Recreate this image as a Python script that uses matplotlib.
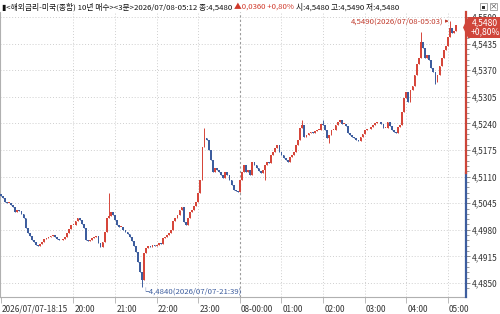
import matplotlib
matplotlib.use("Agg")
import matplotlib.pyplot as plt
import matplotlib.transforms as mtransforms
from matplotlib.patches import Polygon, Rectangle
import numpy as np

plt.rcParams['font.family'] = ['Liberation Sans Narrow', 'Noto Sans CJK KR', 'DejaVu Sans']

# ---------------- data ----------------
closes = [
    4.5063, 4.5058, 4.5048, 4.5046, 4.5046, 4.5041, 4.5036, 4.5024, 4.5028, 4.5026,
    4.5019, 4.5009, 4.4984, 4.4972, 4.4965, 4.4955, 4.4950, 4.4943, 4.4940, 4.4945,
    4.4950, 4.4958, 4.4960, 4.4962, 4.4965, 4.4967, 4.4962, 4.4958, 4.4955, 4.4955,
    4.4958, 4.4962, 4.4972, 4.4982, 4.4992, 4.4992, 4.5002, 4.5009, 4.5004, 4.4994,
    4.4984, 4.4955, 4.4953, 4.4955, 4.4960, 4.4962, 4.4965, 4.4948, 4.4938, 4.4950,
    4.4975, 4.5009, 4.5014, 4.5024, 4.5016, 4.5004, 4.4992, 4.4987, 4.4987, 4.4980,
    4.4975, 4.4970, 4.4962, 4.4953, 4.4940, 4.4926, 4.4901, 4.4877, 4.4857, 4.4923,
    4.4936, 4.4940, 4.4938, 4.4943, 4.4940, 4.4943, 4.4948, 4.4945, 4.4960, 4.4962,
    4.4967, 4.4972, 4.4980, 4.5002, 4.5009, 4.5016, 4.5028, 4.5036, 4.4999, 4.4992,
    4.5009, 4.5024, 4.5028, 4.5038, 4.5048, 4.5070, 4.5102, 4.5182, 4.5204, 4.5199,
    4.5175, 4.5151, 4.5121, 4.5131, 4.5126, 4.5121, 4.5114, 4.5107, 4.5121, 4.5114,
    4.5102, 4.5090, 4.5077, 4.5075, 4.5072, 4.5102, 4.5121, 4.5138, 4.5121, 4.5126,
    4.5114, 4.5146, 4.5138, 4.5131, 4.5124, 4.5119, 4.5126, 4.5138, 4.5146, 4.5143,
    4.5163, 4.5170, 4.5180, 4.5187, 4.5170, 4.5163, 4.5156, 4.5151, 4.5146, 4.5158,
    4.5163, 4.5170, 4.5187, 4.5199, 4.5229, 4.5236, 4.5207, 4.5212, 4.5217, 4.5219,
    4.5217, 4.5221, 4.5224, 4.5224, 4.5239, 4.5236, 4.5224, 4.5204, 4.5212, 4.5224,
    4.5224, 4.5236, 4.5243, 4.5248, 4.5239, 4.5239, 4.5234, 4.5217, 4.5212, 4.5207,
    4.5204, 4.5199, 4.5197, 4.5207, 4.5214, 4.5224, 4.5226, 4.5226, 4.5231, 4.5236,
    4.5241, 4.5243, 4.5243, 4.5239, 4.5229, 4.5229, 4.5243, 4.5234, 4.5224, 4.5219,
    4.5217, 4.5231, 4.5236, 4.5268, 4.5302, 4.5317, 4.5292, 4.5322, 4.5331, 4.5358,
    4.5385, 4.5400, 4.5439, 4.5424, 4.5400, 4.5407, 4.5395, 4.5375, 4.5366, 4.5341,
    4.5358, 4.5380, 4.5400, 4.5419, 4.5429, 4.5451, 4.5473, 4.5461, 4.5466, 4.5480,
]
first_open = 4.5068
# notable wick extremes: bar index -> value
wick_high = {52: 4.5070, 98: 4.5229, 145: 4.5248, 155: 4.5248, 202: 4.5463, 216: 4.5490}
wick_low = {68: 4.4840, 127: 4.5102, 158: 4.5192, 209: 4.5336}

prev_close = 4.5120
last_close = 4.5480
change = 0.0360
change_pct = 0.80
day_open, day_high, day_low = 4.5480, 4.5490, 4.5480

tick_idx = [0, 35, 55, 75, 95, 115, 135, 155, 175, 195, 215]
tick_lbl = ["2026/07/07-18:15", "20:00", "21:00", "22:00", "23:00", "08-00:00",
            "01:00", "02:00", "03:00", "04:00", "05:00"]
y_ticks = [4.4850, 4.4915, 4.4980, 4.5045, 4.5110, 4.5175, 4.5240, 4.5305, 4.5370, 4.5435, 4.5500]

RED = '#d6463a'
BLUE = '#3d5d9e'


def fmt(v, d=4):
    return f"{v:.{d}f}".replace('.', ',')


# ---------------- figure ----------------
W, H = 500, 314
fig = plt.figure(figsize=(W / 100, H / 100), dpi=100)
fig.patch.set_facecolor('white')
ax = fig.add_axes([0, 17 / H, 466 / W, 285 / H])
ax.set_facecolor('white')

n = len(closes)
idx = np.arange(n)
opens = np.array([first_open] + closes[:-1])
cl = np.array(closes)
hi = np.maximum(opens, cl)
lo = np.minimum(opens, cl)
for k, v in wick_high.items():
    hi[k] = max(hi[k], v)
for k, v in wick_low.items():
    lo[k] = min(lo[k], v)
up = cl >= opens
colors = np.where(up, RED, BLUE)

ax.vlines(idx, lo, hi, colors=colors, lw=0.7, zorder=3)
body_bottom = np.minimum(opens, cl)
body_h = np.maximum(np.abs(cl - opens), 0.00012)
ax.bar(idx, body_h, bottom=body_bottom, width=0.85, color=colors, lw=0, zorder=4)

ax.set_xlim(-0.3, 223.7)
ax.set_ylim(4.48158, 4.55123)

# grid
for yv in y_ticks:
    ax.axhline(yv, color='#cfcfcf', lw=0.7, ls=(0, (1, 2)), zorder=1)
for xi in tick_idx[1:]:
    if xi == 115:
        ax.axvline(xi, color='#9a9a9a', lw=0.8, ls=(0, (2, 2)), zorder=1)
    else:
        ax.axvline(xi, color='#cfcfcf', lw=0.7, ls=(0, (1, 2)), zorder=1)

# spines
for s in ['top', 'right']:
    ax.spines[s].set_visible(False)
for s in ['left', 'bottom']:
    ax.spines[s].set_color('#b0b0b0')
    ax.spines[s].set_linewidth(0.8)

# right axis coloured line
trans = mtransforms.blended_transform_factory(ax.transAxes, ax.transData)
ax.plot([1, 1], [4.48158, prev_close], color=BLUE, lw=1.6, transform=trans, clip_on=False, zorder=6)
ax.plot([1, 1], [prev_close, 4.55123], color='#cc4538', lw=1.6, transform=trans, clip_on=False, zorder=6)

# y ticks
ax.yaxis.tick_right()
ax.set_yticks(y_ticks)
ax.set_yticklabels([fmt(v) for v in y_ticks])
ax.set_yticks(np.arange(4.4837, 4.5512, 0.0013), minor=True)
ax.tick_params(axis='y', which='major', length=3, width=0.6, color='#777777', pad=1.2,
               labelsize=6.0, labelcolor='#333333')
ax.tick_params(axis='y', which='minor', length=1.8, width=0.5, color='#777777')

# x ticks
ax.set_xticks(tick_idx)
ax.set_xticklabels(tick_lbl, ha='left')
ax.tick_params(axis='x', length=4, width=0.6, color='#b0b0b0', pad=1.5,
               labelsize=5.9, labelcolor='#333333')
off = mtransforms.ScaledTranslation(1.2 / 100, 0, fig.dpi_scale_trans)
for lbl in ax.get_xticklabels():
    lbl.set_transform(lbl.get_transform() + off)

# annotations
hi_idx = 216
ax.annotate(fmt(day_high) + "(2026/07/08-05:03)",
            xy=(hi_idx, day_high), xytext=(hi_idx - 3.2, day_high),
            ha='right', va='center', fontsize=5.6, color='#c0392b',
            arrowprops=dict(arrowstyle='-|>', color='#c0392b', lw=0.6,
                            mutation_scale=4, shrinkA=0, shrinkB=1), zorder=7)
lo_idx = 68
ax.annotate("└" + fmt(4.4840) + "(2026/07/07-21:39)",
            xy=(lo_idx, 4.4840), xytext=(-0.5, -1.2), textcoords='offset points',
            ha='left', va='top', fontsize=5.6, color=BLUE, zorder=7)


# price tag box on right axis
def fy(py):
    return 1 - py / H


tag = Polygon([(463 / W, fy(27.5)), (468 / W, fy(17)), (500 / W, fy(17)),
               (500 / W, fy(38)), (468 / W, fy(38))],
              closed=True, transform=fig.transFigure, facecolor='#d0453a',
              edgecolor='none', zorder=10)
fig.add_artist(tag)
fig.text(485 / W, fy(22.5), fmt(last_close), color='white',
         fontsize=6.2, ha='center', va='center', zorder=11)
fig.text(485 / W, fy(32), "+" + fmt(change_pct, 2) + "%", color='white',
         fontsize=6.2, ha='center', va='center', zorder=11)

# window icons top right
for x0 in (480, 490):
    fig.add_artist(Rectangle((x0 / W, fy(10)), 7 / W, 7 / H, transform=fig.transFigure,
                             facecolor='white', edgecolor='#999999', lw=0.6))
fig.add_artist(Rectangle((481.8 / W, fy(8.5)), 3.5 / W, 3 / H, transform=fig.transFigure,
                         facecolor='#333333', edgecolor='none'))
fig.text(493.5 / W, fy(6.5), "×", fontsize=5.5, ha='center', va='center', color='#333333')

# title row
TS = 5.6
t1 = fig.text(2 / W, fy(7), "▮<해외금리-미국(종합) 10년 매수><3분>2026/07/08-05:12 종:"
              + fmt(last_close) + " ",
              fontsize=TS, color='#111111', ha='left', va='center')
t2 = fig.text(0, 0, "▲" + fmt(change) + " +" + fmt(change_pct, 2) + "% ",
              fontsize=TS, color='#d0392b', ha='left', va='center')
t3 = fig.text(0, 0, "시:" + fmt(day_open) + " 고:" + fmt(day_high) + " 저:" + fmt(day_low),
              fontsize=TS, color='#111111', ha='left', va='center')
fig.canvas.draw()
r = fig.canvas.get_renderer()
bb1 = t1.get_window_extent(r)
t2.set_position((bb1.x1 / W, fy(7)))
fig.canvas.draw()
bb2 = t2.get_window_extent(r)
t3.set_position((bb2.x1 / W, fy(7)))

fig.savefig("out.png", dpi=100, facecolor='white')
